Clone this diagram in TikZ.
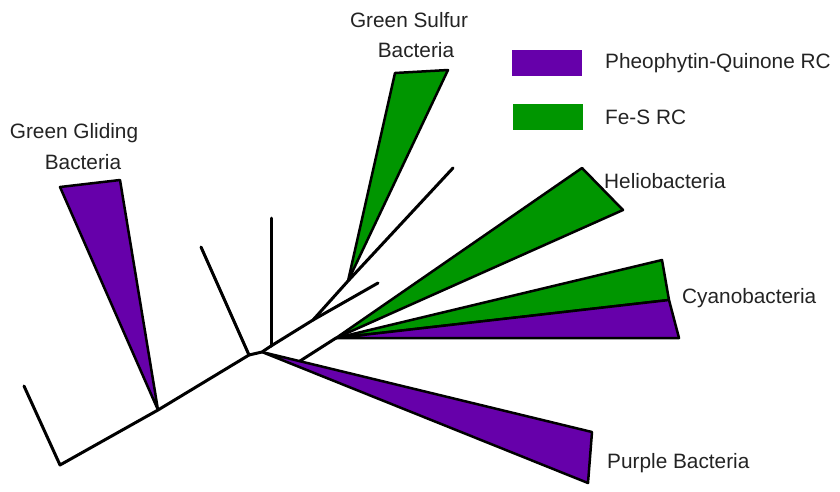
\documentclass[tikz,border=0pt]{standalone}
\usepackage{fontspec}
\setmainfont{Liberation Sans}
\definecolor{rcpurple}{RGB}{102,0,170}
\definecolor{rcgreen}{RGB}{0,150,0}
\definecolor{txt}{RGB}{35,35,35}
\begin{document}
\begin{tikzpicture}[x=1pt,y=-1pt,
  branch/.style={line width=3pt,line cap=round,line join=round},
  clade/.style={draw=black,line width=2.5pt,line join=round},
  lbl/.style={text=txt,inner sep=0pt,font=\fontsize{20.8}{24}\selectfont},
  key/.style={inner sep=0pt,minimum width=70pt,minimum height=26pt}]
\useasboundingbox (0,0) rectangle (840,491);
% tree points
\coordinate (L0) at (24,386);
\coordinate (R0) at (60,465);
\coordinate (N1) at (158,410);
\coordinate (N2) at (249,355);
\coordinate (L2) at (201,247);
\coordinate (N3) at (262,352);
\coordinate (N3v) at (271,346);
\coordinate (L3) at (271,218);
\coordinate (N4) at (313,320);
\coordinate (L4) at (378,283);
\coordinate (N5) at (348,281);
\coordinate (L5) at (453,168);
\coordinate (NP) at (300,361);
\coordinate (NC) at (336,338);
% clades
\filldraw[clade,fill=rcpurple] (N1) -- (60,187) -- (120,180) -- cycle;
\filldraw[clade,fill=rcgreen] (N5) -- (395,73) -- (448,70) -- cycle;
\filldraw[clade,fill=rcpurple] (N3) -- (592,432) -- (588,483) -- cycle;
\filldraw[clade,fill=rcgreen] (NC) -- (582,168) -- (623,210) -- cycle;
\filldraw[clade,fill=rcgreen] (NC) -- (662,260) -- (669,300) -- cycle;
\filldraw[clade,fill=rcpurple] (NC) -- (669,300) -- (679,338) -- cycle;
% branches
\draw[branch] (L0) -- (R0) -- (N1) -- (N2) -- (N3) -- (N3v) -- (N4) -- (N5) -- (L5);
\draw[branch] (N2) -- (L2);
\draw[branch] (N3v) -- (L3);
\draw[branch] (N4) -- (L4);
\draw[branch] (NP) -- (NC);
% labels
\node[lbl] (gg1) at (74,133) {Green Gliding};
\node[lbl] (gg2) at (83,162) {Bacteria};
\node[lbl] (gs1) at (409,20) {Green Sulfur};
\node[lbl] (gs2) at (416,50) {Bacteria};
\node[lbl,anchor=west] (helio) at (604,181) {Heliobacteria};
\node[lbl,anchor=west] (cyano) at (682,298) {Cyanobacteria};
\node[lbl,anchor=west] (purple) at (607,463) {Purple Bacteria};
% legend
\node[key,fill=rcpurple,anchor=north west] (kp) at (512,50) {};
\node[key,fill=rcgreen,anchor=north west] (kg) at (513,104) {};
\node[lbl,anchor=west] (kpt) at (605,63) {Pheophytin-Quinone RC};
\node[lbl,anchor=west] (kgt) at (605,117) {Fe-S RC};
\end{tikzpicture}
\end{document}
